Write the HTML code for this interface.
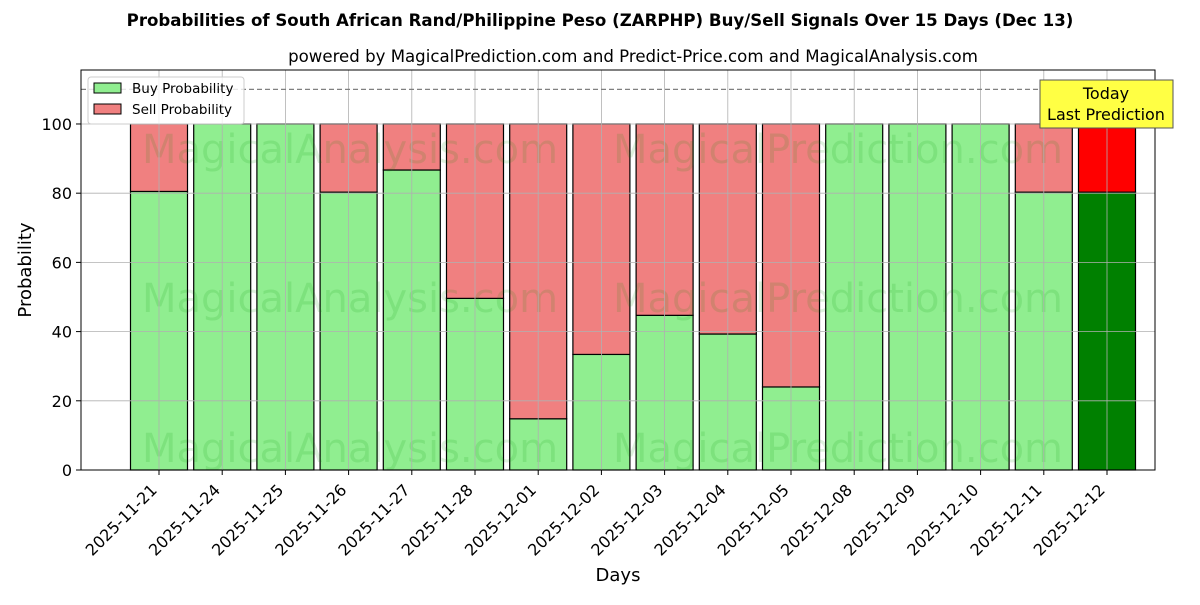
<!DOCTYPE html>
<html><head><meta charset="utf-8"><style>
body{margin:0;background:#fff;}
svg text{font-family:"DejaVu Sans","Liberation Sans",sans-serif;}
</style></head><body>
<svg id="c" width="1200" height="600" xmlns="http://www.w3.org/2000/svg">
<rect width="1200" height="600" fill="#fff"/>
<text x="600" y="26" text-anchor="middle" font-size="16.6" font-weight="bold">Probabilities of South African Rand/Philippine Peso (ZARPHP) Buy/Sell Signals Over 15 Days (Dec 13)</text>
<text x="633" y="62" text-anchor="middle" font-size="16.6">powered by MagicalPrediction.com and Predict-Price.com and MagicalAnalysis.com</text>
<g id="plot"></g>
</svg>
<script>
const categories=["2025-11-21","2025-11-24","2025-11-25","2025-11-26","2025-11-27","2025-11-28","2025-12-01","2025-12-02","2025-12-03","2025-12-04","2025-12-05","2025-12-08","2025-12-09","2025-12-10","2025-12-11","2025-12-12"];
const buyValues=[80.5,100,100,80.3,86.7,49.6,14.8,33.4,44.7,39.3,24,100,100,100,80.3,80.3];
const yTicks=[0,20,40,60,80,100];
const L=81,R=1155,T=70,B=470,YMAX=115.6;
const x0=159,step=63.2,bw=57;
const xs=i=>x0+i*step;
const ys=v=>B-(B-T)*v/YMAX;
const g=document.getElementById('plot');
const NS="http://www.w3.org/2000/svg";
function mk(t,a,p){const e=document.createElementNS(NS,t);for(const k in a)e.setAttribute(k,a[k]);(p||g).appendChild(e);return e;}
categories.forEach((c,i)=>{
 const last=i===categories.length-1;
 const b=mk('rect',{x:xs(i)-bw/2,y:ys(buyValues[i]),width:bw,height:ys(0)-ys(buyValues[i]),fill:last?'#008000':'#90ee90',stroke:'#000','stroke-width':1.2});
 
 
 const s=mk('rect',{x:xs(i)-bw/2,y:ys(100),width:bw,height:ys(buyValues[i])-ys(100),fill:last?'#ff0000':'#f08080',stroke:'#000','stroke-width':1.2});
 
 
});
// watermarks
[148,297,447].forEach(y=>{
 let w=mk('text',{x:350,y:y+15,'text-anchor':'middle','font-size':40,fill:'rgba(0,150,0,0.13)'});w.textContent='MagicalAnalysis.com';
 
 let w2=mk('text',{x:838,y:y+15,'text-anchor':'middle','font-size':40,fill:'rgba(0,150,0,0.13)'});w2.textContent='MagicalPrediction.com';
 
});
// grid
categories.forEach((c,i)=>{
 const l=mk('line',{x1:xs(i),x2:xs(i),y1:T,y2:B,stroke:'#b0b0b0','stroke-width':0.8});
 
 const tk=mk('line',{x1:xs(i),x2:xs(i),y1:B,y2:B+5,stroke:'#000'});
 
 const ax=xs(i)-1, ay=B+21;
 const t=mk('text',{x:ax,y:ay,'text-anchor':'end','font-size':16,transform:`rotate(-45 ${ax} ${ay})`});
 t.textContent=c;
});
yTicks.forEach(v=>{
 const l=mk('line',{x1:L,x2:R,y1:ys(v),y2:ys(v),stroke:'#b0b0b0','stroke-width':0.8});
 
 const tk=mk('line',{x1:L-5,x2:L,y1:ys(v),y2:ys(v),stroke:'#000'});
 
 const t=mk('text',{x:L-9,y:ys(v)+6,'text-anchor':'end','font-size':16});
 t.textContent=v;
});
const d=mk('line',{x1:L,x2:R,y1:ys(110),y2:ys(110),stroke:'#808080','stroke-width':1.2,'stroke-dasharray':'5,3'});

const fr=mk('rect',{x:L,y:T,width:R-L,height:B-T,fill:'none',stroke:'#000','stroke-width':1});

const xt=mk('text',{x:(L+R)/2,y:581,'text-anchor':'middle','font-size':18});xt.textContent='Days';

const yt=mk('text',{x:31,y:(T+B)/2,'text-anchor':'middle','font-size':18,transform:`rotate(-90 31 ${(T+B)/2})`});yt.textContent='Probability';

// legend
const lg=mk('g',{});
mk('rect',{x:88,y:77,width:156,height:47,fill:'#fff','fill-opacity':0.8,stroke:'#ccc',rx:3},lg);
[['Buy Probability','#90ee90',83],['Sell Probability','#f08080',104]].forEach(([n,col,y])=>{
 const e=mk('g',{},lg);
 mk('rect',{x:94,y:y,width:27,height:10,fill:col,stroke:'#000'},e);
 const t=mk('text',{x:132,y:y+10,'font-size':13.5},e);t.textContent=n;
});
// today box
const tb=mk('g',{});
mk('rect',{x:1040,y:80,width:133,height:48,fill:'#ffff44',stroke:'#555'},tb);
const t1=mk('text',{x:1106,y:99,'text-anchor':'middle','font-size':16},tb);t1.textContent='Today';
const t2=mk('text',{x:1106,y:120,'text-anchor':'middle','font-size':16},tb);t2.textContent='Last Prediction';
</script>
</body></html>
